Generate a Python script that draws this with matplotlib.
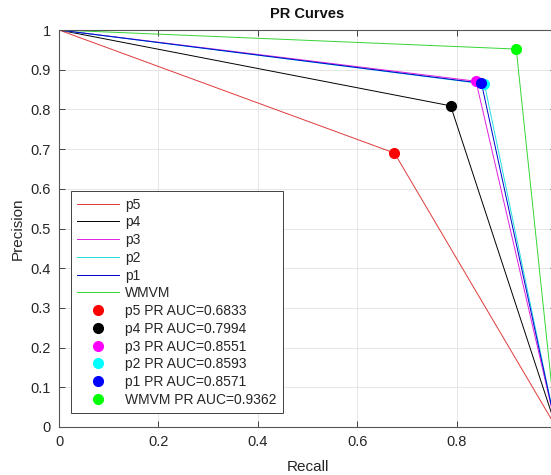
import matplotlib
matplotlib.use("Agg")
import matplotlib.pyplot as plt

plt.rcParams['font.family'] = ['Liberation Sans', 'DejaVu Sans']

# Operating points (recall, precision) for each model; curves run (0,1) -> point -> (1, end)
names = ["p5", "p4", "p3", "p2", "p1", "WMVM"]
recall = [0.675, 0.788, 0.839, 0.856, 0.850, 0.920]
precision = [0.690, 0.809, 0.871, 0.864, 0.866, 0.952]
end_precision = [0.0, 0.0, 0.0, 0.0, 0.0, 0.0]
auc = [0.6833, 0.7994, 0.8551, 0.8593, 0.8571, 0.9362]
line_colors = ["#e03a3a", "#000000", "#e020e0", "#20e0e0", "#0000cc", "#33d633"]
dot_colors = ["#ff0000", "#000000", "#ff00ff", "#00ffff", "#0000ff", "#00ff00"]

xticks = [0, 0.2, 0.4, 0.6, 0.8, 1]
xticklabels = ["0", "0.2", "0.4", "0.6", "0.8", ""]
yticks = [0, 0.1, 0.2, 0.3, 0.4, 0.5, 0.6, 0.7, 0.8, 0.9, 1]

W, H = 551, 475
fig = plt.figure(figsize=(W / 100, H / 100), dpi=100)
left, right, top, bottom = 59, 556, 30, 427
ax = fig.add_axes([left / W, 1 - bottom / H, (right - left) / W, (bottom - top) / H])

for n, r, p, e, c in zip(names, recall, precision, end_precision, line_colors):
    ax.plot([0, r, 1], [1, p, e], color=c, lw=0.7, label=n)
for n, r, p, a, c in zip(names, recall, precision, auc, dot_colors):
    ax.plot([r], [p], 'o', color=c, ms=7, ls='none', label=f"{n} PR AUC={a:.4f}")

ax.set_xlim(0, 1)
ax.set_ylim(0, 1)
ax.set_xticks(xticks)
ax.set_xticklabels(xticklabels)
ax.set_yticks(yticks)
ax.set_yticklabels([f"{t:g}" for t in yticks])
ax.tick_params(direction='in', length=4, width=0.6, colors='#262626', labelsize=10.5,
               top=True, right=True, pad=6)
for s in ax.spines.values():
    s.set_color('#555555')
    s.set_linewidth(0.8)
ax.grid(True, color='#e2e2e2', lw=0.6)
ax.set_axisbelow(True)

ax.set_title("PR Curves", fontsize=10.5, fontweight='bold', color='#111111', pad=9)
ax.set_xlabel("Recall", fontsize=11, color='#262626', labelpad=8)
ax.set_ylabel("Precision", fontsize=11, color='#262626', labelpad=4)

leg = ax.legend(loc='lower left', bbox_to_anchor=(0.024, 0.035), borderaxespad=0,
                fontsize=10, labelspacing=0.27, handlelength=3.0, handletextpad=0.45,
                borderpad=0.45, fancybox=False, framealpha=1, edgecolor='#404040',
                labelcolor='#262626')
leg.get_frame().set_linewidth(0.7)

fig.savefig("out.png", dpi=100)
